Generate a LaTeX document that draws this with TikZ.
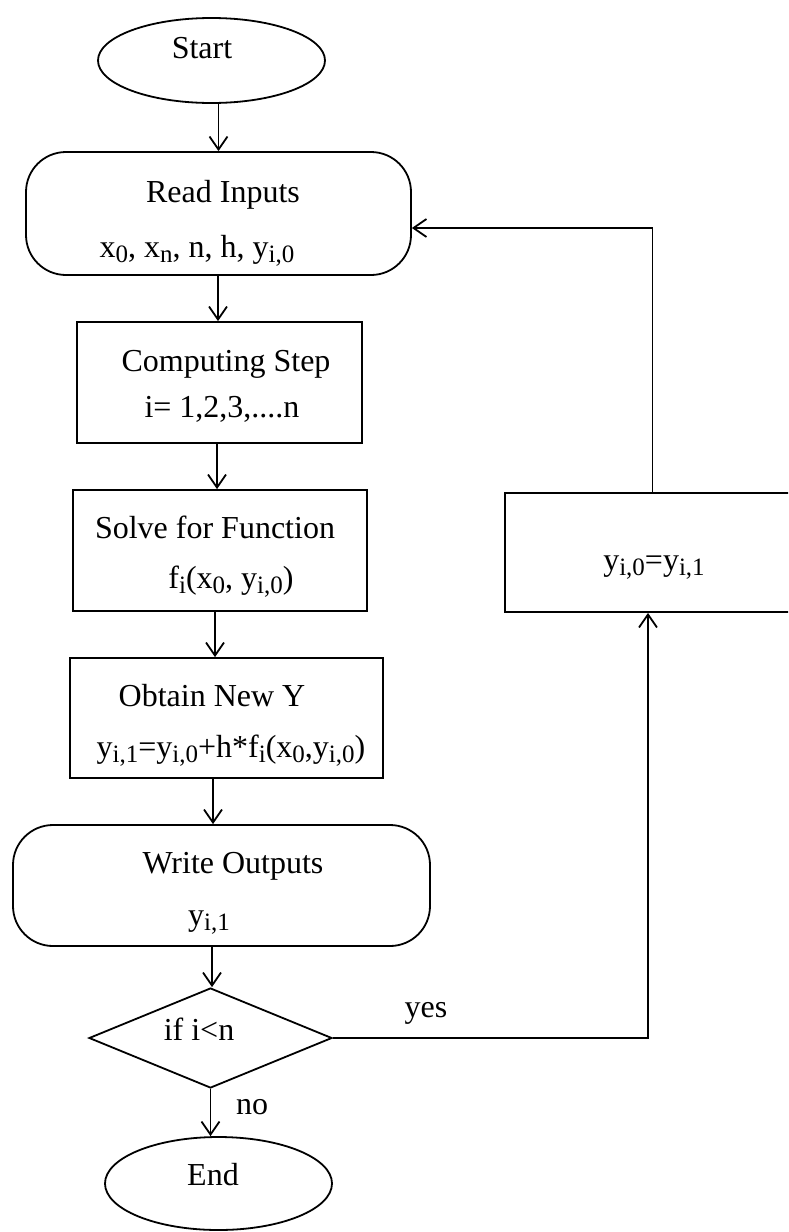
\documentclass[tikz,border=0pt]{standalone}
\usepackage{fontspec}
\setmainfont{Liberation Serif}
\usetikzlibrary{shapes.geometric,arrows.meta}
\newcommand\sbx[1]{\raisebox{-5pt}{\fontsize{25}{25}\selectfont #1}}
\begin{document}
\begin{tikzpicture}[x=1pt,y=-1pt, line width=1.8pt,
  font=\fontsize{32}{38}\selectfont,
  arr/.style={-{Straight Barb[length=13pt,width=18pt,line width=1.8pt]}},
  box/.style={draw, rectangle, inner sep=0pt},
  rbox/.style={draw, rectangle, rounded corners=40pt, inner sep=0pt},
  term/.style={draw, ellipse, inner sep=0pt},
  txt/.style={anchor=base, inner sep=0pt}]
\useasboundingbox (0,0) rectangle (788,1232);
\clip (0,0) rectangle (788,1232);
% shapes
\node[term, minimum width=227pt, minimum height=85pt] (Start) at (211.5,60.5) {};
\node[rbox, minimum width=385pt, minimum height=123pt] (Read) at (218.5,213.5) {};
\node[box, minimum width=285pt, minimum height=121pt] (Comp) at (219.5,382.5) {};
\node[box, minimum width=294pt, minimum height=121pt] (Solve) at (220,550.5) {};
\node[box, minimum width=313pt, minimum height=120pt] (Obtain) at (226.5,718) {};
\node[rbox, minimum width=417pt, minimum height=121pt] (Write) at (221.5,885.5) {};
\node[draw, diamond, aspect=2.43, minimum width=243pt, minimum height=100pt, inner sep=0pt] (Dia) at (210.5,1038) {};
\node[term, minimum width=227pt, minimum height=93pt] (End) at (218.5,1183.5) {};
\node[box, minimum width=295pt, minimum height=119pt] (Upd) at (652.5,552.5) {};
% texts
\node[txt] (tStart) at (202,58) {Start};
\node[txt] (tRead1) at (223,202) {Read Inputs};
\node[txt] (tRead2) at (197,257) {x\sbx{0}, x\sbx{n}, n, h, y\sbx{i,0}};
\node[txt] (tComp1) at (226,371) {Computing Step};
\node[txt] (tComp2) at (222,417) {i= 1,2,3,....n};
\node[txt] (tSolve1) at (215,538) {Solve for Function};
\node[txt] (tSolve2) at (231,588) {f\sbx{i}(x\sbx{0}, y\sbx{i,0})};
\node[txt] (tObt1) at (212,706) {Obtain New Y};
\node[txt] (tObt2) at (231,757) {y\sbx{i,1}=y\sbx{i,0}+h*f\sbx{i}(x\sbx{0},y\sbx{i,0})};
\node[txt] (tWrite1) at (233,873) {Write Outputs};
\node[txt] (tWrite2) at (209,925) {y\sbx{i,1}};
\node[txt] (tDia) at (199,1040) {if i<n};
\node[txt] (tNo) at (252,1114) {no};
\node[txt] (tEnd) at (213,1185) {End};
\node[txt] (tYes) at (426,1017) {yes};
\node[txt] (tUpd) at (654,570) {y\sbx{i,0}=y\sbx{i,1}};
% connectors
\draw[arr] (Read.north |- Start.south) -- (Read.north);
\draw[arr] ([xshift=-0.5pt]Read.south) -- ([xshift=-0.5pt]Read.south |- Comp.north);
\draw[arr] ([xshift=-2.5pt]Comp.south) -- ([xshift=-2.5pt]Comp.south |- Solve.north);
\draw[arr] ([xshift=-5pt]Solve.south) -- ([xshift=-5pt]Solve.south |- Obtain.north);
\draw[arr] ([xshift=-13.5pt]Obtain.south) -- ([xshift=-13.5pt]Obtain.south |- Write.north);
\draw[arr] ([xshift=-9.5pt]Write.south) -- ([xshift=-9.5pt]Write.south |- Dia.north);
\draw[arr] (Dia.south) -- (Dia.south |- End.north);
\draw[arr] (Dia.east) -| ([xshift=-4.5pt]Upd.south);
\draw[arr] (Upd.north) |- ([yshift=-14.5pt]Read.east);
\end{tikzpicture}
\end{document}
